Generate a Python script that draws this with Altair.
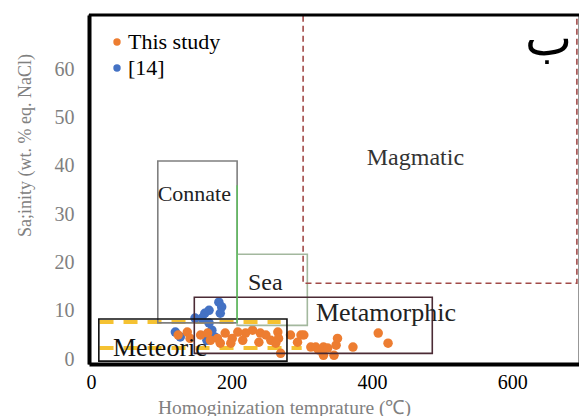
import altair as alt
import pandas as pd

# ---- data ----
orange_x = [124, 137, 141, 156, 166, 170, 180, 191, 201, 209, 216, 220, 230, 241, 239, 249, 256,
            266, 267, 263, 270, 284, 294, 299, 303, 313, 320, 324, 331, 331, 337, 346, 349, 351,
            373, 409, 423, 199, 184]
orange_y = [5.0, 5.6, 4.3, 5.0, 5.4, 3.9, 4.3, 5.4, 4.3, 5.6, 3.9, 5.4, 6.0, 5.4, 3.5, 5.0, 3.9,
            5.6, 4.3, 3.3, 1.2, 5.0, 3.5, 5.0, 5.0, 2.5, 2.5, 1.9, 2.5, 0.8, 2.3, 0.8, 2.9, 4.3,
            2.5, 5.4, 3.3, 3.3, 3.3]
blue_x = [182, 186, 168, 162, 184, 148, 168, 120, 127, 172, 176, 165, 158]
blue_y = [11.8, 10.8, 10.1, 9.5, 9.5, 8.5, 7.5, 5.6, 4.6, 6.0, 4.6, 3.9, 8.5]

series_names = ["This study", "\u00a0\u00a0[14]"]
series_colors = ["#ED7D31", "#4472C4"]

# fluid-origin fields (x: temperature, y: salinity)
box_names = ["Connate", "Sea", "Metamorphic", "Meteoric"]
box_x1 = [95, 208, 147, 11]
box_x2 = [208, 308, 486, 279]
box_y1 = [7.5, 7.0, 1.2, -0.4]
box_y2 = [41, 21.7, 12.8, 8.3]
box_colors = ["#7F7F7F", "#A3B89E", "#4B2B35", "#111111"]

magmatic_x1, magmatic_x2, magmatic_y1, magmatic_y2 = 302, 692, 15.7, 80

yellow_y = [7.7, 2.3]
yellow_x1 = [12, 12]
yellow_x2 = [270, 300]

label_text = ["Magmatic", "Connate", "Sea", "Metamorphic", "Meteoric", "ب"]
label_x = [462, 147, 248, 420, 98, 652]
label_y = [41.6, 34.1, 15.7, 9.5, 2.3, 66]
label_size = [24, 22, 24, 26, 26, 50]
label_color = ["#333333", "#222222", "#222222", "#222222", "#111111", "#000000"]

x_ticks = [0, 200, 400, 600]
y_ticks = [0, 10, 20, 30, 40, 50, 60]

FONT = "Liberation Serif"
xs = alt.Scale(domain=[-3, 695], nice=False, zero=False)
ys = alt.Scale(domain=[-1, 71.2], nice=False, zero=False)

pts = pd.DataFrame(
    {"t": blue_x + orange_x,
     "s": blue_y + orange_y,
     "series": [series_names[1]] * len(blue_x) + [series_names[0]] * len(orange_x)}
)
pts["o"] = range(len(pts))

boxes = pd.DataFrame({"name": box_names, "x1": box_x1, "x2": box_x2,
                      "y1": box_y1, "y2": box_y2, "c": box_colors})
mag = pd.DataFrame({"x1": [magmatic_x1], "x2": [magmatic_x2],
                    "y1": [magmatic_y1], "y2": [magmatic_y2]})
yel = pd.DataFrame({"x1": yellow_x1, "x2": yellow_x2, "y": yellow_y})
labs = pd.DataFrame({"t": label_text, "x": label_x, "y": label_y,
                     "size": label_size, "c": label_color})
green = pd.DataFrame({"x": [208], "y1": [7.5], "y2": [36]})

x_axis = alt.Axis(values=x_ticks, title="Homoginization  temprature  (\u2103)",
                  titleX=195, titleY=43, titleBaseline="middle", titleAlign="center",
                  titleFontSize=19.5)
y_axis = alt.Axis(values=y_ticks, title="Sa;inity  (wt. % eq. NaCl)", titleAngle=270,
                  titleX=-64, titleY=130, titleBaseline="middle", titleAlign="center")

yellow = alt.Chart(yel).mark_rule(color="#F5C232", strokeWidth=4, strokeDash=[14, 10]).encode(
    x=alt.X("x1:Q", scale=xs, axis=x_axis), x2="x2:Q",
    y=alt.Y("y:Q", scale=ys, axis=y_axis))

points = alt.Chart(pts).mark_circle(size=90, opacity=1).encode(
    x=alt.X("t:Q", scale=xs), y=alt.Y("s:Q", scale=ys),
    color=alt.Color("series:N",
                    scale=alt.Scale(domain=series_names, range=series_colors),
                    legend=alt.Legend(title=None, orient="none", legendX=17, legendY=16)),
    order=alt.Order("o:Q"))

rects = alt.Chart(boxes).mark_rect(fillOpacity=0, strokeWidth=1.6).encode(
    x=alt.X("x1:Q", scale=xs), x2="x2:Q",
    y=alt.Y("y1:Q", scale=ys), y2="y2:Q",
    stroke=alt.Stroke("c:N", scale=None))

green_line = alt.Chart(green).mark_rule(color="#5CC45C", strokeWidth=1.4).encode(
    x=alt.X("x:Q", scale=xs), y=alt.Y("y1:Q", scale=ys), y2="y2:Q")

magmatic = alt.Chart(mag).mark_rect(fillOpacity=0, stroke="#A24A48", strokeWidth=1.6,
                                    strokeDash=[6, 4], clip=True).encode(
    x=alt.X("x1:Q", scale=xs), x2="x2:Q",
    y=alt.Y("y1:Q", scale=ys), y2="y2:Q")

labels = alt.Chart(labs).mark_text(font=FONT, align="center", baseline="middle").encode(
    x=alt.X("x:Q", scale=xs), y=alt.Y("y:Q", scale=ys), text="t:N",
    size=alt.Size("size:Q", scale=None), color=alt.Color("c:N", scale=None))

top_border = alt.Chart(pd.DataFrame({"d": [0]})).mark_rule(color="#000000", strokeWidth=3).encode(
    x=alt.value(0), x2=alt.value(490), y=alt.value(0))

chart = alt.layer(yellow, points, rects, green_line, magmatic, labels, top_border).properties(
    width=490, height=349,
    padding={"left": 81, "top": 7, "right": 0, "bottom": 52},
    autosize=alt.AutoSizeParams(type="none"),
).configure_view(
    stroke="#777777", strokeWidth=1.5
).configure_axis(
    grid=False, ticks=False, labelFont=FONT, labelFontSize=20, titleFont=FONT,
    titleFontSize=18, titleFontWeight="normal", titleColor="#808080",
    domainColor="#000000", domainWidth=4
).configure_axisX(
    labelColor="#000000", labelPadding=8
).configure_axisY(
    labelColor="#808080", labelPadding=15
).configure_legend(
    labelFont=FONT, labelFontSize=22, labelColor="#000000", symbolType="circle",
    symbolSize=55, symbolStrokeWidth=0, rowPadding=4, labelOffset=0, padding=0
)

chart.save("out.html", embed_options={"renderer": "svg", "actions": False})
